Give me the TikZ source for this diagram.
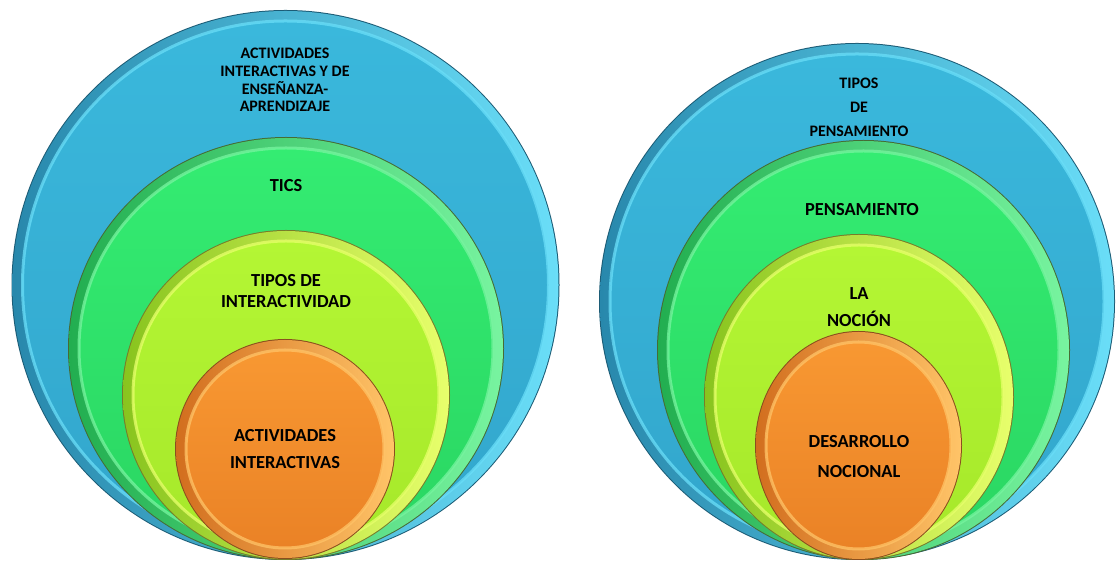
\documentclass[tikz,border=0pt]{standalone}
\usepackage{fontspec}
\setmainfont{Carlito}
\usepackage{tikz}

% disc palettes: main, top, rim, ring, edge
\definecolor{mainblue}{RGB}{50,166,204}
\definecolor{topblue}{RGB}{58,184,220}
\definecolor{rimblue}{RGB}{40,136,172}
\definecolor{ringblue}{RGB}{106,222,248}
\definecolor{edgeblue}{RGB}{28,92,118}
\definecolor{maingreen}{RGB}{42,214,98}
\definecolor{topgreen}{RGB}{52,236,114}
\definecolor{rimgreen}{RGB}{34,174,80}
\definecolor{ringgreen}{RGB}{120,244,160}
\definecolor{edgegreen}{RGB}{70,108,52}
\definecolor{mainlime}{RGB}{166,232,42}
\definecolor{toplime}{RGB}{180,246,52}
\definecolor{rimlime}{RGB}{136,196,30}
\definecolor{ringlime}{RGB}{232,255,108}
\definecolor{edgelime}{RGB}{120,124,42}
\definecolor{mainorange}{RGB}{234,130,38}
\definecolor{toporange}{RGB}{248,152,50}
\definecolor{rimorange}{RGB}{210,110,30}
\definecolor{ringorange}{RGB}{255,196,104}
\definecolor{edgeorange}{RGB}{138,78,30}

\tikzset{
  disclabel/.style={font=\bfseries\fontsize{18.4}{27}\selectfont, align=center, text=black, inner sep=0pt},
  outerlabel/.style={disclabel, font=\bfseries\fontsize{16}{17.7}\selectfont}
}

\begin{document}
\begin{tikzpicture}[x=1pt, y=1pt]
  \useasboundingbox[fill=white] (0,0) rectangle (1117,564);
  % two sets of nested discs, all touching at the bottom
  \foreach \cx/\cy/\rx/\ry/\col in {
      285.5/279/274/275/blue, 286/215.5/218/211.5/green,
      286/169/164/165/lime, 285/115/110/110/orange,
      857/262.5/258/258.5/blue, 863.5/214/206.5/210/green,
      859/167/155/163/lime, 858.5/118.5/103.5/114.5/orange}{
    \fill[edge\col] (\cx,\cy) ellipse [x radius=\rx, y radius=\ry];
    \shade[left color=rim\col, right color=ring\col] (\cx,\cy) ellipse [x radius=\rx-1, y radius=\ry-1];
    \shade[top color=top\col, bottom color=main\col] (\cx,\cy) ellipse [x radius=\rx-11, y radius=\ry-11];
    \draw[ring\col, line width=3pt, opacity=0.75] (\cx,\cy) ellipse [x radius=\rx-11, y radius=\ry-11];
  }

  % left set
  \node[outerlabel] (actens) at (285,484) {ACTIVIDADES\\INTERACTIVAS Y DE\\ENSEÑANZA-\\APRENDIZAJE};
  \node[disclabel] (tics) at (286,378) {TICS};
  \node[disclabel, font=\bfseries\fontsize{18.4}{21}\selectfont] (tipint) at (286,272.5) {TIPOS DE\\INTERACTIVIDAD};
  \node[disclabel] (actint) at (285,114.5) {ACTIVIDADES\\INTERACTIVAS};

  % right set
  \node[outerlabel, font=\bfseries\fontsize{16}{24}\selectfont] (tippen) at (859,457) {TIPOS\\DE\\PENSAMIENTO};
  \node[disclabel] (pens) at (862,354) {PENSAMIENTO};
  \node[disclabel] (nocion) at (859,256.5) {LA\\NOCIÓN};
  \node[disclabel, font=\bfseries\fontsize{18.4}{30}\selectfont] (desnoc) at (859,107) {DESARROLLO\\NOCIONAL};
\end{tikzpicture}
\end{document}
